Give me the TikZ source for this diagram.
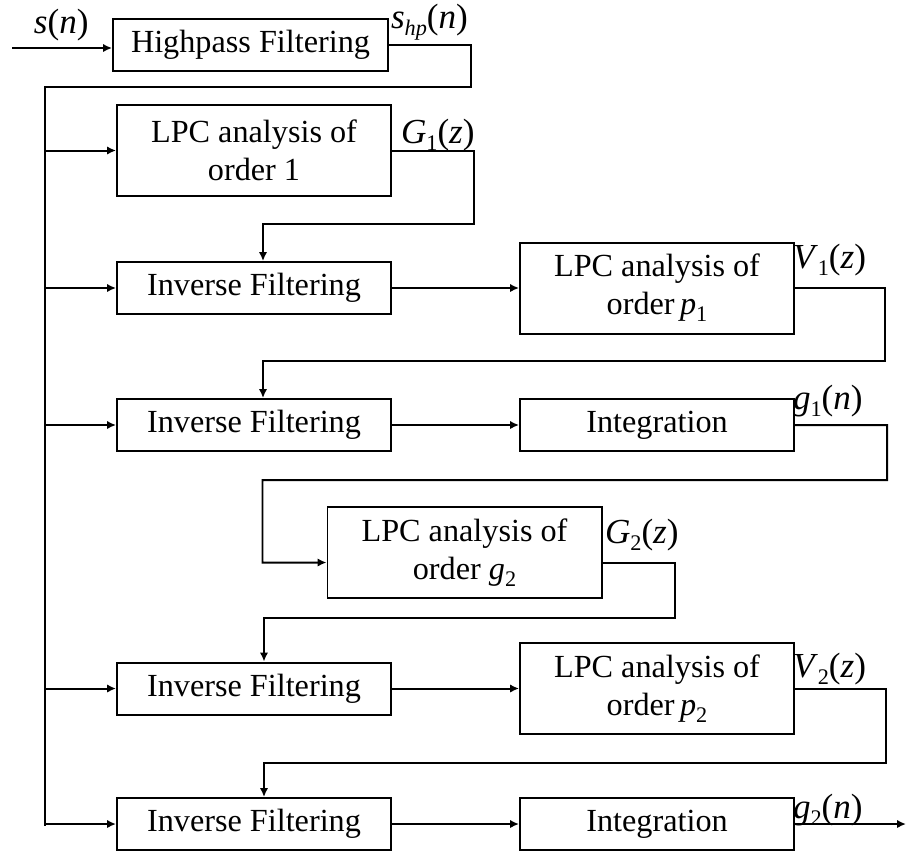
\documentclass[tikz,border=0pt]{standalone}
\usepackage{fontspec}
\setmainfont{Liberation Serif}
\usepackage{tikz}
\usetikzlibrary{arrows.meta, positioning, calc}
\newcommand{\lsub}[1]{\raisebox{-0.45ex}{\fontsize{19}{19}\selectfont #1}}
\newcommand{\sgl}[2]{\textit{#1}(\textit{#2})}
\newcommand{\subsgl}[3]{\textit{#1}\lsub{#2}(\textit{#3})}

\begin{document}
\begin{tikzpicture}[x=0.03cm, y=-0.03cm, >={Latex[length=7.5pt, width=7pt]}, line width=1.7pt]
    \tikzstyle{block} = [rectangle, draw, line width=1.7pt, minimum width=8.22cm, minimum height=1.56cm, inner sep=0pt, align=center, font=\fontsize{27.5}{32.5}\selectfont]
    \tikzstyle{tall}  = [block, minimum height=2.73cm]
    \tikzstyle{lbl}   = [inner sep=0pt, anchor=base west, font=\fontsize{30}{34}\selectfont]

    \useasboundingbox (0,0) rectangle (906,854);

    \node (hp)    [block, minimum width=8.25cm] at (250.5,45) {Highpass Filtering};
    \node (lpc1)  [tall] at (254,150.5) {LPC analysis of\\order 1};
    \node (inv1)  [block] at (254,288) {Inverse Filtering};
    \node (lpcp1) [tall, right=3.81cm of inv1] {LPC analysis of\\order\,\textit{p}\lsub{1}};
    \node (inv2)  [block] at (254,425) {Inverse Filtering};
    \node (int1)  [block, right=3.81cm of inv2] {Integration};
    \node (lpcg2) [tall] at (464.5,552.5) {LPC analysis of\\order \textit{g}\lsub{2}};
    \node (inv3)  [block] at (254,688.5) {Inverse Filtering};
    \node (lpcp2) [tall, right=3.81cm of inv3] {LPC analysis of\\order\,\textit{p}\lsub{2}};
    \node (inv4)  [block] at (254,824) {Inverse Filtering};
    \node (int2)  [block, right=3.81cm of inv4] {Integration};

    \node (sn)  [lbl] at (33,33)  {\sgl{s}{n}};
    \node (shp) [lbl] at (390,28) {\textit{s}\lsub{\textit{hp}}(\textit{n})};
    \node (g1z) [lbl] at (400,143) {\subsgl{G}{1}{z}};
    \node (v1z) [lbl] at (792,268) {\subsgl{V}{1}{z}};
    \node (g1n) [lbl] at (792,409) {\subsgl{g}{1}{n}};
    \node (g2z) [lbl] at (604,543) {\subsgl{G}{2}{z}};
    \node (v2z) [lbl] at (792,677) {\subsgl{V}{2}{z}};
    \node (g2n) [lbl] at (792,818) {\subsgl{g}{2}{n}};

    \coordinate (in)  at (12,48);
    \coordinate (top) at (45,87);
    \coordinate (bot) at (45,826);
    \coordinate (out) at (906,826);

    % input and common feed
    \draw [->] (in) -- (in -| hp.west);
    \draw (hp.east) -- ++(82,0) |- (top) -- (bot);
    \foreach \b in {lpc1, inv1, inv2, inv3, inv4}
        \draw [->] (top |- \b.west) -- (\b.west);

    % chain
    \draw [->] (lpc1.east) -- ++(82,0) -- ++(0,73) -| ([xshift=0.27cm]inv1.north);
    \draw [->] (inv1) -- (lpcp1);
    \draw [->] (lpcp1.east) -- ++(90,0) -- ++(0,73) -| ([xshift=0.27cm]inv2.north);
    \draw [->] (inv2) -- (int1);
    \draw [->] (int1.east) -- ++(92,0) -- ++(0,55) -| ($(lpcg2.west)+(-64,10)$) -- ([yshift=-0.3cm]lpcg2.west);
    \draw [->] ([yshift=-0.3cm]lpcg2.east) -- ++(72,0) -- ++(0,55) -| ([xshift=0.3cm]inv3.north);
    \draw [->] (inv3) -- (lpcp2);
    \draw [->] (lpcp2.east) -- ++(91,0) -- ++(0,74) -| ([xshift=0.3cm]inv4.north);
    \draw [->] (inv4) -- (int2);
    \draw [->] (int2.east) -- (int2.east -| out);
\end{tikzpicture}
\end{document}
